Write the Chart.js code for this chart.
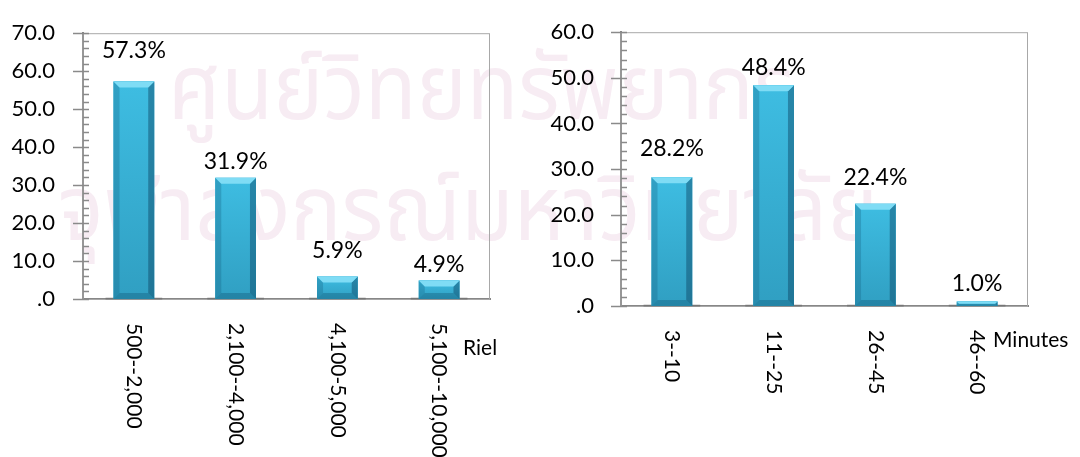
<!DOCTYPE html>
<html>
<head>
<meta charset="utf-8">
<script src="https://cdn.jsdelivr.net/npm/chart.js@4.4.1/dist/chart.umd.min.js"></script>
<style>
	body { margin: 0; background: #fff; width: 1080px; height: 457px; overflow: hidden; position: relative; }
	.wm { position: absolute; color: #f7ecf3; font-family: "Noto Sans Thai", "Loma", "Garuda", "Norasi", sans-serif; font-size: 92px; white-space: nowrap; line-height: 1; transform-origin: left top; }
	.box { position: absolute; top: 0; width: 540px; height: 457px; }
</style>
</head>
<body>
<div class="wm" style="left:168px; top:45px; transform: scaleX(0.92);">ศูนย์วิทยทรัพยากร</div>
<div class="wm" style="left:58px; top:166px; transform: scaleX(0.93);">จุฬาลงกรณ์มหาวิทยาลัย</div>
<div class="box" style="left:0"><canvas id="riel"></canvas></div>
<div class="box" style="left:540px"><canvas id="minutes"></canvas></div>
<script>
// Données
const rielLabels = ['500--2,000', '2,100--4,000', '4,100-5,000', '5,100--10,000'];
const rielValues = [57.3, 31.9, 5.9, 4.9];
const rielMax = 70;

const minuteLabels = ['3--10', '11--25', '26--45', '46--60'];
const minuteValues = [28.2, 48.4, 22.4, 1.0];
const minuteMax = 60;

const tickStep = 10;
const minorStep = 2;

Chart.defaults.font.family = 'Lato';
Chart.defaults.color = '#000';

// Cadre gris autour de la zone de tracé + petites graduations sur l'axe Y
const frameAndTicks = {
	id: 'frameAndTicks',
	beforeDatasetsDraw(chart) {
		const {ctx, chartArea: a, scales} = chart;
		ctx.save();
		ctx.strokeStyle = '#a8a8a8';
		ctx.lineWidth = 1;
		ctx.strokeRect(a.left, a.top + 0.5, a.right - a.left - 0.5, a.bottom - a.top);
		ctx.strokeStyle = '#8a8a8a';
		ctx.lineWidth = 1.5;
		const max = scales.y.max;
		for (let v = 0; v <= max; v += minorStep) {
			const y = Math.round(scales.y.getPixelForValue(v)) + 0.5;
			ctx.beginPath();
			ctx.moveTo(v % tickStep === 0 ? a.left - 10 : a.left, y);
			ctx.lineTo(a.left + 6, y);
			ctx.stroke();
		}
		ctx.restore();
	}
};

// Effet biseauté des barres (style Excel)
const bevelBars = {
	id: 'bevelBars',
	afterDatasetsDraw(chart, args, opts) {
		const ctx = chart.ctx;
		const meta = chart.getDatasetMeta(0);
		ctx.save();
		meta.data.forEach((bar, i) => {
			const {x, y, base, width} = bar.getProps(['x', 'y', 'base', 'width'], true);
			const l = x - width / 2, r = x + width / 2, t = y, b = base;
			const h = b - t;
			const bev = Math.min(6, h / 2, width / 2);

			// ombre au pied
			ctx.fillStyle = 'rgba(0,0,0,0.12)';
			ctx.fillRect(l - 8, b - 2, width + 16, 3);

			const g = ctx.createLinearGradient(0, t, 0, b);
			g.addColorStop(0, '#3ebde2');
			g.addColorStop(1, '#309fc2');
			ctx.fillStyle = g;
			ctx.fillRect(l, t, width, h);

			const poly = (pts, color) => {
				ctx.beginPath();
				ctx.moveTo(pts[0][0], pts[0][1]);
				pts.slice(1).forEach(p => ctx.lineTo(p[0], p[1]));
				ctx.closePath();
				ctx.fillStyle = color;
				ctx.fill();
			};
			poly([[l, t], [l + bev, t + bev], [l + bev, b - bev], [l, b]], 'rgba(20,95,130,0.3)');
			poly([[r, t], [r - bev, t + bev], [r - bev, b - bev], [r, b]], 'rgba(10,60,90,0.42)');
			poly([[l, b], [l + bev, b - bev], [r - bev, b - bev], [r, b]], 'rgba(10,70,100,0.3)');
			poly([[l, t], [r, t], [r - bev, t + bev], [l + bev, t + bev]], '#7fdcf5');

			// étiquette de valeur
			const lift = opts.lift[i];
			ctx.fillStyle = '#000';
			ctx.font = '23px Lato';
			ctx.textAlign = 'center';
			ctx.textBaseline = 'middle';
			ctx.fillText(chart.data.datasets[0].data[i].toFixed(1) + '%', x, t - lift);
		});
		ctx.restore();
	}
};

// Libellés de l'axe X tournés de 90° (lecture de haut en bas) et unité
const rotatedLabels = {
	id: 'rotatedLabels',
	afterDraw(chart, args, opts) {
		const {ctx, chartArea: a, scales} = chart;
		ctx.save();
		ctx.fillStyle = '#000';
		ctx.font = '21px Lato';
		ctx.textBaseline = 'middle';
		chart.data.labels.forEach((label, i) => {
			const x = scales.x.getPixelForTick(i);
			ctx.save();
			ctx.translate(x, a.bottom + 24);
			ctx.rotate(Math.PI / 2);
			ctx.textAlign = 'left';
			ctx.fillText(label, 0, 0);
			ctx.restore();
		});
		ctx.textAlign = 'left';
		ctx.fillText(opts.unit, a.right + opts.dx, a.bottom + opts.dy);
		ctx.restore();
	}
};

function createBarChart(_id, _labels, _values, _max, _geo) {
	const ctx = document.getElementById(_id);

	new Chart(ctx, {
		type: 'bar',
		data: {
			labels: _labels,
			datasets: [{
				data: _values,
				backgroundColor: '#36acd0',
				borderWidth: 0,
				barPercentage: 0.4,
				categoryPercentage: 1.0
			}]
		},
		options: {
			responsive: true,
			maintainAspectRatio: false,
			animation: false,
			layout: {
				padding: {left: 0, right: _geo.padRight, top: _geo.padTop, bottom: 0}
			},
			scales: {
				x: {
					ticks: {display: false},
					grid: {display: false},
					border: {display: true, color: '#878787', width: 2},
					afterFit: s => { s.height = _geo.axisHeight; }
				},
				y: {
					min: 0,
					max: _max,
					ticks: {
						stepSize: tickStep,
						padding: _geo.tickPad,
						font: {size: 22},
						color: '#000',
						callback: v => v === 0 ? '.0' : v.toFixed(1)
					},
					grid: {display: false},
					border: {display: true, color: '#878787', width: 2},
					afterFit: s => { s.width = _geo.axisWidth; }
				}
			},
			plugins: {
				legend: {display: false},
				tooltip: {enabled: false},
				bevelBars: {lift: _geo.lift},
				rotatedLabels: {unit: _geo.unit, dx: _geo.unitDx, dy: _geo.unitDy}
			}
		},
		plugins: [frameAndTicks, bevelBars, rotatedLabels]
	});
}

createBarChart('riel', rielLabels, rielValues, rielMax, {
	axisWidth: 83, axisHeight: 158, padRight: 50, padTop: 24, tickPad: 20,
	lift: [31, 16, 26, 16], unit: 'Riel', unitDx: -27, unitDy: 49
});

createBarChart('minutes', minuteLabels, minuteValues, minuteMax, {
	axisWidth: 81, axisHeight: 151, padRight: 52, padTop: 25, tickPad: 19,
	lift: [29, 18, 26, 18], unit: 'Minutes', unitDx: -35, unitDy: 34
});
</script>
</body>
</html>
